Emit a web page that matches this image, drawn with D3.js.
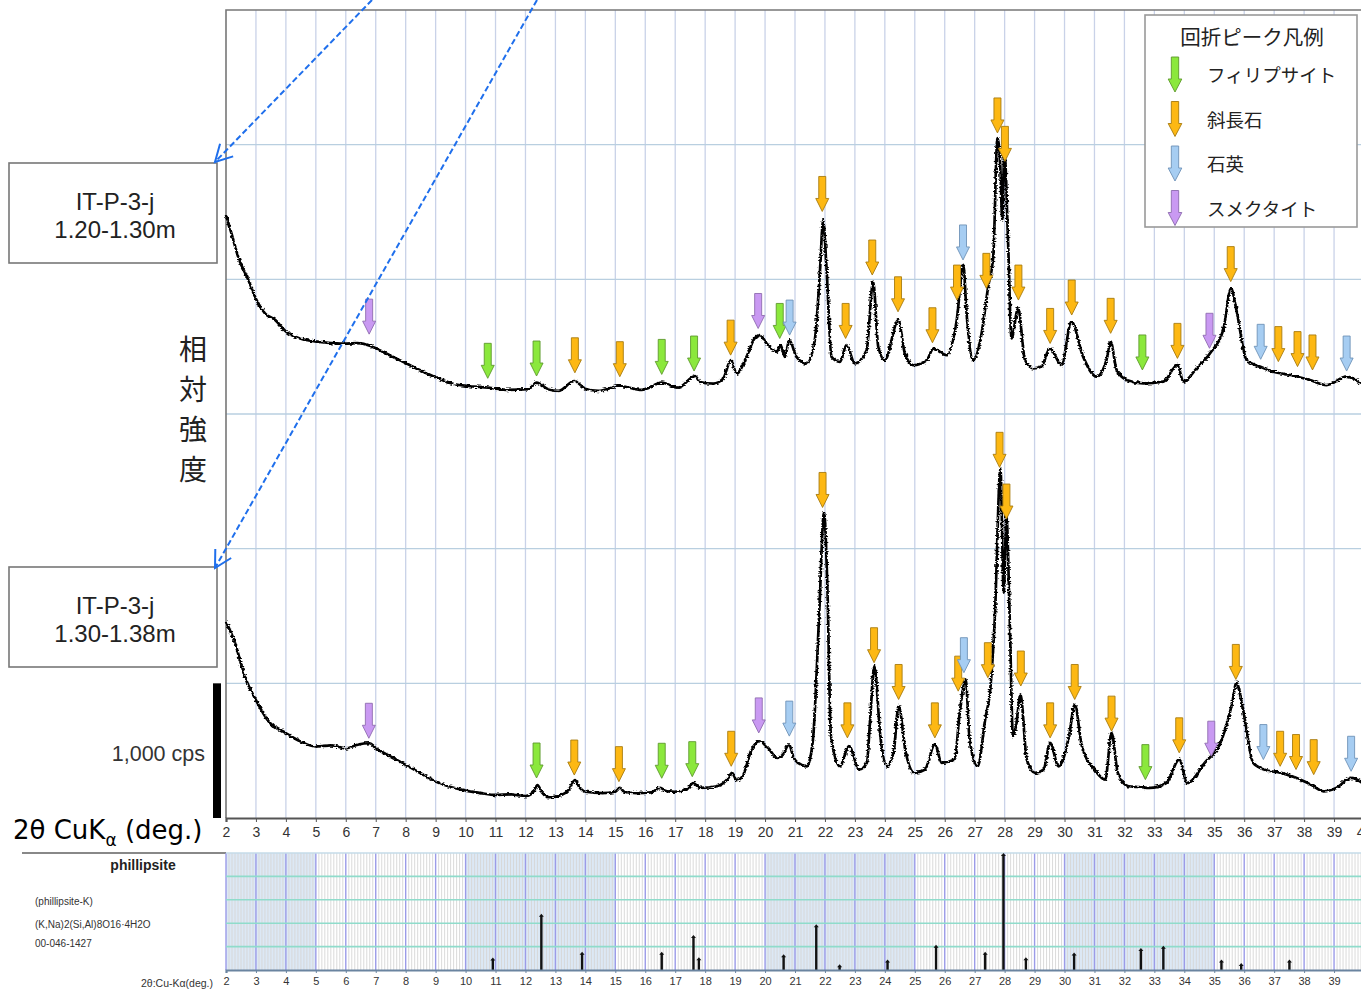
<!DOCTYPE html>
<meta charset="utf-8">
<style>
body { margin: 0; background: #fff; }
text { font-family: "Liberation Sans", Arial, sans-serif; }
.jp { font-family: "Noto Sans CJK JP", sans-serif; }
.trace { fill: none; stroke: #000; stroke-width: 2.7; stroke-linejoin: round; }
.vgrid { stroke: #c9d2e8; stroke-width: 1.3; }
.hgrid { stroke: #b9cfe0; stroke-width: 1.3; }
.tick text { fill: #333; }
</style>
<body>
<script src="https://cdnjs.cloudflare.com/ajax/libs/d3/7.8.5/d3.min.js"></script>
<script>

// upper sample (1.20-1.30m), cps above its own baseline
var upperTrace = [[2.0,1478],[2.19,1336],[2.41,1164],[2.75,993],[3.02,846],[3.3,748],[3.64,699],[4.0,613],
  [4.42,564],[4.97,539],[5.53,527],[5.97,522],[6.42,527],[6.86,502],[7.2,466],[7.53,429],[7.98,380],
  [8.53,319],[9.03,270],[9.64,221],[10.09,208],[10.76,196],[11.43,179],[12.1,184],[12.37,233],[12.76,184],
  [13.1,172],[13.63,245],[13.99,189],[14.43,172],[15.15,208],[15.88,179],[16.55,233],[17.1,196],[17.66,282],
  [17.83,238],[18.27,226],[18.6,263],[18.86,400],[19.05,300],[19.38,424],[19.65,561],[19.83,586],[20.05,524],
  [20.39,462],[20.52,511],[20.66,424],[20.81,548],[21.05,424],[21.39,375],[21.66,548],[21.83,1045],[21.94,1442],
  [22.05,1094],[22.22,424],[22.5,387],[22.72,511],[23.0,375],[23.39,474],[23.61,983],[23.78,499],[24.0,400],
  [24.45,697],[24.67,449],[24.95,362],[25.4,400],[25.62,486],[26.06,437],[26.4,697],[26.62,1107],[26.73,747],
  [26.95,400],[27.23,598],[27.45,945],[27.62,1169],[27.76,2049],[27.86,1814],[27.92,1442],[27.99,1963],
  [28.12,1243],[28.23,562],[28.45,785],[28.68,401],[28.96,339],[29.23,352],[29.51,488],[29.9,364],[30.23,686],
  [30.62,426],[31.07,277],[31.4,401],[31.54,537],[31.74,327],[32.07,253],[32.63,228],[33.3,240],[33.77,364],
  [33.97,240],[34.41,339],[34.86,451],[35.3,624],[35.56,933],[35.74,772],[36.08,401],[36.52,352],[36.97,314],
  [37.52,290],[38.19,253],[38.75,215],[39.42,277],[39.9,228]];

// lower sample (1.30-1.38m)
var lowerTrace = [[2.0,1458],[2.3,1300],[2.63,1049],[3.0,876],[3.43,715],[4.0,631],[4.5,567],[5.0,530],
  [5.5,540],[6.0,517],[6.4,545],[6.8,555],[7.0,519],[7.4,468],[8.0,394],[8.5,332],[9.0,270],[9.5,230],
  [10.0,203],[10.5,185],[11.0,171],[11.5,175],[12.0,163],[12.25,190],[12.4,245],[12.55,190],[12.8,154],
  [13.2,171],[13.45,210],[13.65,282],[13.8,230],[14.0,195],[14.6,185],[15.0,195],[15.15,223],[15.3,195],
  [15.7,185],[16.2,190],[16.5,223],[16.7,200],[17.0,195],[17.4,215],[17.6,260],[17.84,223],[18.4,236],
  [18.75,290],[18.9,335],[19.05,280],[19.25,310],[19.55,508],[19.8,570],[20.1,521],[20.4,446],[20.6,471],
  [20.8,546],[20.95,450],[21.1,409],[21.4,384],[21.6,583],[21.8,1476],[21.97,2269],[22.08,1724],[22.2,608],
  [22.5,384],[22.8,533],[23.15,360],[23.4,409],[23.5,700],[23.65,1128],[23.85,608],[24.07,384],[24.3,500],
  [24.46,831],[24.7,484],[24.99,335],[25.34,360],[25.67,546],[25.9,409],[26.33,434],[26.5,781],[26.7,1029],
  [26.83,583],[27.1,384],[27.35,732],[27.53,980],[27.67,1476],[27.86,2592],[27.97,1674],[28.06,2244],
  [28.17,1476],[28.28,608],[28.38,682],[28.53,918],[28.74,434],[29.02,335],[29.3,360],[29.52,558],[29.8,384],
  [30.15,608],[30.34,843],[30.58,533],[31.0,360],[31.36,285],[31.57,632],[31.78,335],[32.14,236],[32.5,230],
  [32.84,223],[33.4,260],[33.83,434],[34.1,260],[34.68,409],[35.25,583],[35.6,856],[35.74,1004],[35.96,806],
  [36.3,409],[36.66,360],[37.23,335],[37.73,298],[38.22,248],[38.65,198],[39.07,223],[39.57,298],[40.03,248]];

// peak markers: [2theta, cps at arrow tip, mineral]
var upperArrows = [[6.78,593,'smec'],[10.74,265,'phil'],[12.37,282,'phil'],[13.65,306,'plag'],[15.15,277,'plag'],
  [16.55,294,'phil'],[17.63,319,'phil'],[18.85,437,'plag'],[19.77,635,'smec'],[20.49,561,'phil'],[20.82,586,'qtz'],
  [21.91,1504,'plag'],[22.69,561,'plag'],[23.58,1032,'plag'],[24.44,759,'plag'],[25.59,529,'plag'],[26.41,846,'plag'],
  [26.61,1144,'qtz'],[27.39,933,'plag'],[27.76,2087,'plag'],[28.01,1876,'plag'],[28.46,846,'plag'],[29.52,524,'plag'],
  [30.24,735,'plag'],[31.54,599,'plag'],[32.6,327,'phil'],[33.77,413,'plag'],[34.84,488,'smec'],[35.55,983,'plag'],
  [36.55,406,'qtz'],[37.14,389,'plag'],[37.78,352,'plag'],[38.28,327,'plag'],[39.42,319,'qtz']];

var lowerArrows = [[6.77,592,'smec'],[12.37,297,'phil'],[13.63,319,'plag'],[15.12,270,'plag'],[16.55,295,'phil'],
  [17.57,307,'phil'],[18.87,384,'plag'],[19.79,632,'smec'],[20.81,608,'qtz'],[21.92,2306,'plag'],[22.75,595,'plag'],
  [23.64,1153,'plag'],[24.46,880,'plag'],[25.67,595,'plag'],[26.45,942,'plag'],[26.64,1079,'qtz'],[27.44,1042,'plag'],
  [27.83,2604,'plag'],[28.06,2220,'plag'],[28.54,980,'plag'],[29.52,595,'plag'],[30.34,880,'plag'],[31.57,645,'plag'],
  [32.7,285,'phil'],[33.83,484,'plag'],[34.9,459,'smec'],[35.72,1029,'plag'],[36.64,434,'qtz'],[37.2,384,'plag'],
  [37.73,360,'plag'],[38.32,322,'plag'],[39.57,347,'qtz']];

// reference pattern phillipsite-K 00-046-1427: [2theta, relative intensity]
var phillipsite = [[10.91,10.7],[12.53,48],[13.89,15.6],[16.55,15.6],[17.61,30],[17.79,11],[20.62,13.5],
  [21.71,39],[22.49,5],[24.09,9],[25.71,21.6],[27.35,15.6],[27.96,100],[28.71,11],[30.32,15],[32.55,18.7],
  [33.3,20.7],[35.24,9],[35.9,6],[37.51,9]];

var mineralNames = {phil: 'フィリプサイト', plag: '斜長石', qtz: '石英', smec: 'スメクタイト'};
var mineralOrder = ['phil', 'plag', 'qtz', 'smec'];
var sampleLabels = [['IT-P-3-j', '1.20-1.30m'], ['IT-P-3-j', '1.30-1.38m']];
var shadedBands = [[2,5],[10,15],[20,25],[30,35]];

var upperOffset = 3000;

var fill = {phil: '#8be83c', plag: '#fdb813', qtz: '#a6cdf2', smec: '#c999f2'};
var edge = {phil: '#5f9a2e', plag: '#a87c10', qtz: '#6f93b8', smec: '#8e6cb0'};

var W = 1361, H = 990;
var svg = d3.select('body').append('svg').attr('width', W).attr('height', H);

// rough stroke for the measured traces (line style only, data untouched)
var flt = svg.append('defs').append('filter').attr('id', 'rough')
   .attr('filterUnits', 'userSpaceOnUse').attr('x', 0).attr('y', 0).attr('width', W).attr('height', H);
flt.append('feTurbulence').attr('type', 'fractalNoise').attr('baseFrequency', '0.3 0.7').attr('numOctaves', 1).attr('seed', 3).attr('result', 'n');
flt.append('feDisplacementMap').attr('in', 'SourceGraphic').attr('in2', 'n').attr('scale', 4)
   .attr('xChannelSelector', 'R').attr('yChannelSelector', 'G');

var x = d3.scaleLinear().domain([2, 40]).range([226, 1364]);
var y = d3.scaleLinear().domain([0, 6000]).range([818, 10]);

// grid
svg.append('g').selectAll('line').data(d3.range(3, 41)).enter().append('line')
   .attr('class', 'vgrid').attr('x1', d => x(d)).attr('x2', d => x(d)).attr('y1', y(6000)).attr('y2', y(0));
svg.append('g').selectAll('line').data(d3.range(1000, 6000, 1000)).enter().append('line')
   .attr('class', 'hgrid').attr('x1', x(2)).attr('x2', W).attr('y1', d => y(d)).attr('y2', d => y(d));

// frame
svg.append('path').attr('d', 'M' + x(2) + ',' + y(0) + 'V' + y(6000) + 'H' + W)
   .attr('fill', 'none').attr('stroke', '#777').attr('stroke-width', 1.6);

var line = d3.line().x(d => x(d[0])).y(d => y(d[1])).curve(d3.curveMonotoneX);
svg.append('path').attr('class', 'trace').attr('filter', 'url(#rough)')
   .attr('d', line(upperTrace.map(d => [d[0], d[1] + upperOffset])));
svg.append('path').attr('class', 'trace').attr('filter', 'url(#rough)').attr('d', line(lowerTrace));

// x axis
var xAxis = d3.axisBottom(x).tickValues(d3.range(2, 41)).tickSize(4).tickPadding(5).tickFormat(d3.format('d'));
var ax = svg.append('g').attr('transform', 'translate(0,' + y(0) + ')').call(xAxis);
ax.select('.domain').attr('stroke', '#555').attr('stroke-width', 2.2);
ax.selectAll('.tick line').attr('stroke', '#555');
ax.selectAll('.tick text').attr('font-size', 14).attr('font-family', 'Liberation Sans, Arial');

// arrows
var arrowPath = 'M-3.5,-35L3.5,-35L3.5,-13L6.5,-13L0,0L-6.5,-13L-3.5,-13Z';
function drawArrows(list, off) {
  svg.append('g').selectAll('path').data(list).enter().append('path')
     .attr('d', arrowPath)
     .attr('transform', d => 'translate(' + x(d[0]) + ',' + y(d[1] + off) + ')')
     .attr('fill', d => fill[d[2]]).attr('stroke', d => edge[d[2]]).attr('stroke-width', 0.9);
}
drawArrows(upperArrows, upperOffset);
drawArrows(lowerArrows, 0);

// 1,000 cps scale bar
svg.append('rect').attr('x', 213).attr('width', 8).attr('y', y(1000)).attr('height', y(0) - y(1000)).attr('fill', '#000');
svg.append('text').attr('x', 205).attr('y', 761).attr('text-anchor', 'end').attr('font-size', 21.5)
   .attr('fill', '#333').text('1,000 cps');

// axis title
var t = svg.append('text').attr('x', 13).attr('y', 839).attr('font-size', 26).attr('fill', '#000')
   .style('font-family', 'DejaVu Sans, Verdana, sans-serif');
t.append('tspan').text('2θ CuK');
t.append('tspan').attr('font-size', 17).attr('dy', 7).text('α');
t.append('tspan').attr('dy', -7).text(' (deg.)');

// vertical label
svg.append('g').selectAll('text').data('相対強度'.split('')).enter().append('text')
   .attr('class', 'jp').attr('x', 193).attr('y', (d, i) => 360 + i * 40).attr('text-anchor', 'middle')
   .attr('font-size', 28).attr('fill', '#222').text(d => d);

// sample boxes
var boxTop = [163, 567];
sampleLabels.forEach(function (lab, i) {
  var g = svg.append('g').attr('transform', 'translate(9,' + boxTop[i] + ')');
  g.append('rect').attr('width', 208).attr('height', 100).attr('fill', '#fff').attr('stroke', '#777').attr('stroke-width', 1.6);
  g.append('text').attr('x', 106).attr('y', 47).attr('text-anchor', 'middle').attr('font-size', 24).attr('fill', '#222').text(lab[0]);
  g.append('text').attr('x', 106).attr('y', 75).attr('text-anchor', 'middle').attr('font-size', 24).attr('fill', '#222').text(lab[1]);
});

// blue dashed pointers
var pointers = [[[372, 0], [215, 162]], [[537, 0], [215, 568]]];
pointers.forEach(function (p) {
  var a = p[0], b = p[1];
  svg.append('line').attr('x1', a[0]).attr('y1', a[1]).attr('x2', b[0]).attr('y2', b[1])
     .attr('stroke', '#1f6fec').attr('stroke-width', 2).attr('stroke-dasharray', '6,3');
  var ang = Math.atan2(a[1] - b[1], a[0] - b[0]);
  var len = 19, spread = 0.5;
  var h1 = [b[0] + len * Math.cos(ang + spread), b[1] + len * Math.sin(ang + spread)];
  var h2 = [b[0] + len * Math.cos(ang - spread), b[1] + len * Math.sin(ang - spread)];
  svg.append('path').attr('d', 'M' + h1 + 'L' + b + 'L' + h2)
     .attr('fill', 'none').attr('stroke', '#1f6fec').attr('stroke-width', 2);
});

// legend
var lg = svg.append('g').attr('transform', 'translate(1145,15)');
lg.append('rect').attr('width', 212).attr('height', 212).attr('fill', '#fff').attr('stroke', '#999').attr('stroke-width', 1.6);
lg.append('text').attr('class', 'jp').attr('x', 107).attr('y', 30).attr('text-anchor', 'middle')
  .attr('font-size', 20.5).attr('fill', '#222').text('回折ピーク凡例');
mineralOrder.forEach(function (m, i) {
  var cy = 77 + i * 44.5;
  lg.append('path').attr('d', arrowPath).attr('transform', 'translate(30,' + cy + ') scale(1.05,1.0)')
    .attr('fill', fill[m]).attr('stroke', edge[m]).attr('stroke-width', 0.9);
  lg.append('text').attr('class', 'jp').attr('x', 62).attr('y', cy - 10).attr('font-size', 18.5)
    .attr('fill', '#222').text(mineralNames[m]);
});

// reference pattern panel
var py = d3.scaleLinear().domain([0, 100]).range([970, 853]);
svg.append('line').attr('x1', 22).attr('x2', x(2)).attr('y1', 853).attr('y2', 853).attr('stroke', '#888').attr('stroke-width', 2);
svg.append('g').selectAll('rect').data(shadedBands).enter().append('rect')
   .attr('x', d => x(d[0])).attr('width', d => x(d[1]) - x(d[0])).attr('y', py(100)).attr('height', py(0) - py(100))
   .attr('fill', '#dce8f5');
svg.append('g').selectAll('line').data(d3.range(21, 400).filter(v => v % 10 !== 0).map(v => v / 10)).enter().append('line')
   .attr('x1', d => x(d)).attr('x2', d => x(d)).attr('y1', py(100)).attr('y2', py(0))
   .attr('stroke', '#d6d6d6').attr('stroke-width', 0.9);
svg.append('g').selectAll('line').data(d3.range(2, 41)).enter().append('line')
   .attr('x1', d => x(d)).attr('x2', d => x(d)).attr('y1', py(100)).attr('y2', py(0))
   .attr('stroke', '#9b9be8').attr('stroke-width', 1.4);
svg.append('g').selectAll('line').data([20, 40, 60, 80]).enter().append('line')
   .attr('x1', x(2)).attr('x2', W).attr('y1', d => py(d)).attr('y2', d => py(d))
   .attr('stroke', '#8fdccb').attr('stroke-width', 1.6);
svg.append('line').attr('x1', x(2)).attr('x2', W).attr('y1', py(100)).attr('y2', py(100)).attr('stroke', '#c4dbe8').attr('stroke-width', 1.5);

var sticks = svg.append('g').selectAll('g').data(phillipsite).enter().append('g');
sticks.append('line').attr('x1', d => x(d[0])).attr('x2', d => x(d[0])).attr('y1', py(0)).attr('y2', d => py(d[1]) + 2)
   .attr('stroke', '#111').attr('stroke-width', 2.4);
sticks.append('path').attr('d', d => 'M' + (x(d[0]) - 2.5) + ',' + (py(d[1]) + 3) + 'L' + x(d[0]) + ',' + py(d[1]) + 'L' + (x(d[0]) + 2.5) + ',' + (py(d[1]) + 3) + 'Z')
   .attr('fill', '#111');

var pAxis = d3.axisBottom(x).tickValues(d3.range(2, 40)).tickSize(3).tickPadding(4).tickFormat(d3.format('d'));
var pax = svg.append('g').attr('transform', 'translate(0,' + py(0) + ')').call(pAxis);
pax.select('.domain').attr('stroke', '#6a84a0').attr('stroke-width', 2.2);
pax.selectAll('.tick line').attr('stroke', '#6a84a0');
pax.selectAll('.tick text').attr('font-size', 11).attr('font-family', 'Liberation Sans, Arial');

svg.append('text').attr('x', 213).attr('y', 987).attr('text-anchor', 'end').attr('font-size', 10.5).attr('fill', '#333').text('2θ:Cu-Kα(deg.)');
svg.append('text').attr('x', 143).attr('y', 870).attr('text-anchor', 'middle').attr('font-size', 14).attr('font-weight', 'bold').attr('fill', '#222').text('phillipsite');
svg.append('text').attr('x', 35).attr('y', 905).attr('font-size', 10).attr('fill', '#333').text('(phillipsite-K)');
svg.append('text').attr('x', 35).attr('y', 928).attr('font-size', 10).attr('fill', '#333').text('(K,Na)2(Si,Al)8O16·4H2O');
svg.append('text').attr('x', 35).attr('y', 947).attr('font-size', 10).attr('fill', '#333').text('00-046-1427');

</script>
</body>
